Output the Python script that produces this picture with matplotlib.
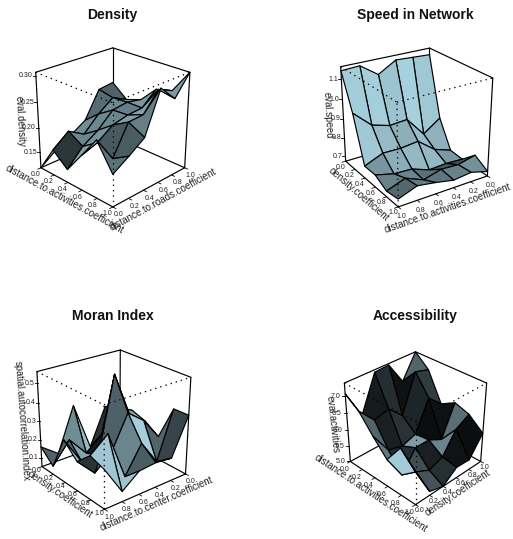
import numpy as np
import matplotlib
matplotlib.use("Agg")
import matplotlib.pyplot as plt
from matplotlib.collections import PolyCollection

plt.rcParams['font.family'] = ['Liberation Sans', 'DejaVu Sans']

# rows: position along the left-to-front edge, columns: along the front-to-right edge
density_z = [[.118, .141, .159, .178, .231, .235],
             [.169, .193, .174, .203, .225, .210],
             [.144, .176, .195, .223, .227, .221],
             [.186, .197, .218, .225, .227, .253],
             [.229, .180, .236, .238, .274, .261],
             [.180, .199, .220, .298, .268, .306]]
speed_z = [[1.141, 1.146, 1.083, 1.137, 1.132, 1.127],
           [.966, .881, .854, .861, .757, .820],
           [.737, .776, .774, .784, .713, .681],
           [.737, .713, .708, .674, .679, .674],
           [.703, .737, .698, .723, .718, .740],
           [.713, .747, .732, .713, .723, .698]]
moran_z = [[.160, .089, .329, .063, .268, .201],
           [.094, .206, .099, .176, .300, .252],
           [.278, .125, .130, .533, .283, .227],
           [.206, .109, .186, .365, .296, .176],
           [.278, .355, .097, .242, .109, .365],
           [.252, .102, .173, .181, .171, .367]]
access_z = [[7.07, 6.23, 7.30, 7.33, 6.66, 7.37],
            [6.78, 6.30, 6.42, 6.00, 7.13, 7.01],
            [6.28, 5.62, 5.50, 5.64, 6.54, 6.16],
            [5.83, 5.09, 5.69, 5.69, 5.47, 6.40],
            [6.42, 5.45, 5.24, 5.40, 6.02, 6.26],
            [6.02, 5.12, 5.00, 5.33, 5.31, 5.90]]
up_ticks = ['0.0', '0.2', '0.4', '0.6', '0.8', '1.0']
down_ticks = ['1.0', '0.8', '0.6', '0.4', '0.2', '0.0']
density_zticks = [.15, .20, .25, .30]
speed_zticks = [.7, .8, .9, 1.0, 1.1]
moran_zticks = [.1, .2, .3, .4, .5]
access_zticks = [5.0, 5.5, 6.0, 6.5, 7.0]

W, H = 513, 539
DEPTH = 12.0
BASE = np.array([173, 216, 230]) / 255.0
SHADE = 0.75

panels = [
    dict(title='Density', z=density_z, zlim=(.118, .306), zt=density_zticks,
         ulab='distance.to.activities.coefficient', vlab='distance.to.roads.coefficient',
         ut=up_ticks, vt=up_ticks, zlab='eval.density', theta=45, phi=25, e=1.0, s=52.6, k=1.2,
         c=(112.8, 121.7), light=(-.866, .5), tx=112.5, ty=14.5, rect=(0, 0),
         uo=(-5, 7), vo=(6, 8), ulo=(-10, 13), vlo=(12, 13), zo=-10, zlo=-18, zrot=-87),
    dict(title='Speed in Network', z=speed_z, zlim=(.674, 1.161), zt=speed_zticks,
         ulab='density.coefficient', vlab='distance.to.activities.coefficient',
         ut=up_ticks, vt=down_ticks, zlab='eval.speed', theta=57, phi=25, e=1.0, s=53.0, k=1.0,
         c=(415, 122), light=(.866, .5), tx=415, ty=14.5, rect=(1, 0),
         uo=(-5, 6), vo=(3, 10), ulo=(-12, 12), vlo=(3, 18), zo=-8, zlo=-15, zrot=-87),
    dict(title='Moran Index', z=moran_z, zlim=(.048, .559), zt=moran_zticks,
         ulab='density.coefficient', vlab='distance.to.center.coefficient',
         ut=up_ticks, vt=down_ticks, zlab='spatial.autocorrelation.index', theta=51, phi=25, e=1.0, s=52.8, k=1.0,
         c=(113, 424), light=(.866, .5), tx=112.7, ty=316, rect=(0, 1),
         uo=(-5, 4), vo=(5, 8), ulo=(-11, 8), vlo=(9, 13), zo=-8, zlo=-18, zrot=-86),
    dict(title='Accessibility', z=access_z, zlim=(5.0, 7.37), zt=access_zticks,
         ulab='distance.to.activities.coefficient', vlab='density.coefficient',
         ut=up_ticks, vt=up_ticks, zlab='eval.activities', theta=45, phi=33, e=.97, s=48.1, k=2.4,
         c=(415.5, 424), light=(-.866, .5), tx=414.7, ty=316, rect=(1, 1),
         uo=(-6, 8), vo=(4, 6), ulo=(-10, 11), vlo=(8, 11), zo=-10, zlo=-15, zrot=-84),
]


def projector(p):
    c, s = np.cos(np.radians(p['theta'])), np.sin(np.radians(p['theta']))
    cf, sf = np.cos(np.radians(p['phi'])), np.sin(np.radians(p['phi']))
    def proj(u, v, f):
        x, y, zz = 2 * np.asarray(u, float) - 1, 2 * np.asarray(v, float) - 1, p['e'] * (2 * np.asarray(f, float) - 1)
        X = x * c + y * s
        F = x * s - y * c
        Y = zz * cf - F * sf
        Z = F * cf + zz * sf
        w = 1 - Z / DEPTH
        return float(X / w), float(Y / w)
    return proj


fig = plt.figure(figsize=(W / 100, H / 100), dpi=100)
fig.patch.set_facecolor('white')
pw, ph = W / 2, H / 2

for p in panels:
    col, row = p['rect']
    x0, y0 = col * pw, row * ph
    ax = fig.add_axes([x0 / W, 1 - (y0 + ph) / H, pw / W, ph / H])
    cx, cy = p['c']
    s = p['s']
    ax.set_xlim((x0 - cx) / s, (x0 + pw - cx) / s)
    ax.set_ylim((cy - (y0 + ph)) / s, (cy - y0) / s)
    ax.axis('off')
    proj = projector(p)
    zmin, zmax = p['zlim']
    Z = (np.array(p['z']) - zmin) / (zmax - zmin)
    grid = np.linspace(0, 1, 6)

    def seg(a, b, **kw):
        xa, ya = proj(*a)
        xb, yb = proj(*b)
        ax.plot([xa, xb], [ya, yb], color='k', clip_on=False, solid_capstyle='round', **kw)

    solid = dict(lw=.85, zorder=1)
    # back of the box
    seg((0, 0, 1), (0, 1, 1), **solid)
    seg((0, 1, 1), (1, 1, 1), **solid)
    seg((0, 1, 0), (0, 1, 1), **solid)
    seg((0, 1, 0), (1, 1, 0), **solid)
    seg((0, 1, 0), (0, 0, 0), **solid)
    seg((1, 1, 0), (1, 1, 1), **solid)
    # axes
    seg((0, 0, 0), (1, 0, 0), **solid)
    seg((1, 0, 0), (1, 1, 0), **solid)
    seg((0, 0, 0), (0, 0, 1), **solid)

    tick_style = dict(fontsize=5, color='#222222', ha='center', va='center', annotation_clip=False)
    lab_style = dict(fontsize=7, color='#222222', ha='center', va='center', annotation_clip=False,
                     rotation_mode='anchor')
    for g, t in zip(grid, p['ut']):
        seg((g, 0, 0), (g, -.04, 0), lw=.6, zorder=1)
        ax.annotate(t, proj(g, 0, 0), xytext=(p['uo'][0], -p['uo'][1]), textcoords='offset pixels', **tick_style)
    for g, t in zip(grid, p['vt']):
        seg((1, g, 0), (1.04, g, 0), lw=.6, zorder=1)
        ax.annotate(t, proj(1, g, 0), xytext=(p['vo'][0], -p['vo'][1]), textcoords='offset pixels', **tick_style)
    for t in p['zt']:
        f = (t - zmin) / (zmax - zmin)
        xe, ye = proj(0, 0, f)
        ax.plot([xe, xe - 3 / s], [ye, ye], color='k', lw=.6, zorder=1, clip_on=False)
        ax.annotate(f'{t:.2f}' if zmax < .4 else f'{t:.1f}', (xe, ye), xytext=(p['zo'], 0),
                    textcoords='offset pixels', **tick_style)

    xa, ya = proj(0, 0, 0); xb, yb = proj(1, 0, 0); xc, yc = proj(1, 1, 0)
    rot_u = np.degrees(np.arctan2(yb - ya, xb - xa))
    rot_v = np.degrees(np.arctan2(yc - yb, xc - xb))
    ax.annotate(p['ulab'], proj(.5, 0, 0), xytext=(p['ulo'][0], -p['ulo'][1]), textcoords='offset pixels',
                rotation=rot_u, **lab_style)
    ax.annotate(p['vlab'], proj(1, .5, 0), xytext=(p['vlo'][0], -p['vlo'][1]), textcoords='offset pixels',
                rotation=rot_v, **lab_style)
    ax.annotate(p['zlab'], proj(0, 0, .5), xytext=(p['zlo'], 0), textcoords='offset pixels',
                rotation=p['zrot'], **lab_style)

    # surface facets, far to near
    th = np.radians(p['theta'])
    facets = []
    for i in range(5):
        for j in range(5):
            uc, vc = (grid[i] + grid[i + 1]) / 2, (grid[j] + grid[j + 1]) / 2
            depth = (2 * uc - 1) * np.sin(th) - (2 * vc - 1) * np.cos(th)
            h = grid[1] * 2
            d1 = p['k'] * 2 * (Z[i + 1, j] - Z[i, j + 1])
            d2 = p['k'] * 2 * (Z[i + 1, j + 1] - Z[i, j])
            a = np.array([h, -h, d1])
            b = np.array([h, h, d2])
            n = np.cross(a, b)
            n = n / np.linalg.norm(n)
            cosv = n[0] * p['light'][0] + n[1] * p['light'][1]
            col_ = BASE * (0.5 * (cosv + 1)) ** SHADE
            corners = [(i, j), (i + 1, j), (i + 1, j + 1), (i, j + 1)]
            poly = [proj(grid[a_], grid[b_], Z[a_, b_]) for a_, b_ in corners]
            facets.append((depth, poly, col_))
    facets.sort(key=lambda t: t[0])
    ax.add_collection(PolyCollection([f[1] for f in facets], facecolors=[f[2] for f in facets],
                                     edgecolors='k', linewidths=.85, zorder=3, clip_on=False))

    # front of the box, dotted
    dot = dict(lw=.9, zorder=4, linestyle=(0, (1.1, 3.2)))
    seg((0, 0, 1), (1, 0, 1), **dot)
    seg((1, 0, 1), (1, 1, 1), **dot)
    seg((1, 0, 0), (1, 0, 1), **dot)

    fig.text(p['tx'] / W, 1 - p['ty'] / H, p['title'], fontsize=10, fontweight='bold', color='#111111',
             ha='center', va='center')

fig.savefig('out.png', dpi=100)
